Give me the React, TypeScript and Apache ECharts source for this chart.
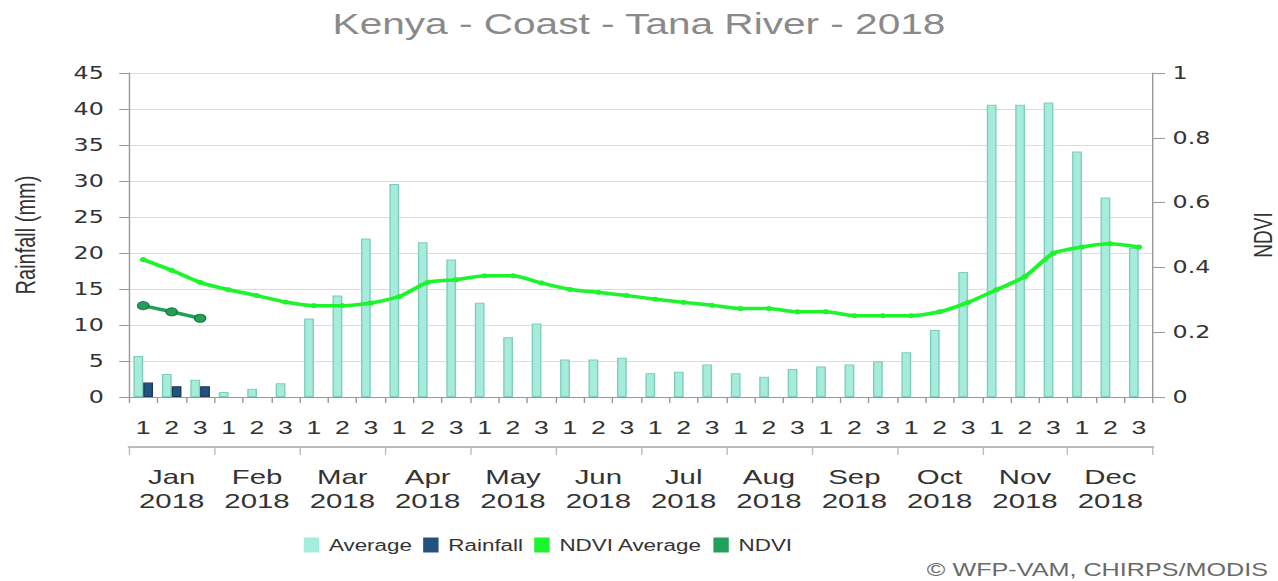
import React, { useEffect, useRef } from 'react';
import * as echarts from 'echarts';

// Reference picture is horizontally stretched; render narrower and stretch with CSS.
const VIEW_W = 1278;
const VIEW_H = 581;
const NAT_W = 913;
const S = VIEW_W / NAT_W;

const dekads = ['1', '2', '3', '1', '2', '3', '1', '2', '3', '1', '2', '3', '1', '2', '3', '1', '2', '3', '1', '2', '3', '1', '2', '3', '1', '2', '3', '1', '2', '3', '1', '2', '3', '1', '2', '3'];
const months = ['Jan\n2018', 'Feb\n2018', 'Mar\n2018', 'Apr\n2018', 'May\n2018', 'Jun\n2018', 'Jul\n2018', 'Aug\n2018', 'Sep\n2018', 'Oct\n2018', 'Nov\n2018', 'Dec\n2018'];

const averageRain = [5.7, 3.2, 2.4, 0.7, 1.15, 1.9, 10.9, 14.1, 22.0, 29.6, 21.5, 19.1, 13.1, 8.3, 10.2, 5.2, 5.2, 5.45, 3.3, 3.5, 4.5, 3.3, 2.8, 3.9, 4.25, 4.5, 4.95, 6.2, 9.3, 17.35, 40.6, 40.6, 40.9, 34.1, 27.7, 20.7];
const rainfall = [2.0, 1.5, 1.5, null, null, null, null, null, null, null, null, null, null, null, null, null, null, null, null, null, null, null, null, null, null, null, null, null, null, null, null, null, null, null, null, null];
const ndviAverage = [0.424, 0.391, 0.354, 0.331, 0.313, 0.293, 0.282, 0.282, 0.29, 0.31, 0.354, 0.362, 0.374, 0.374, 0.352, 0.332, 0.323, 0.313, 0.302, 0.292, 0.283, 0.273, 0.273, 0.263, 0.263, 0.251, 0.251, 0.251, 0.263, 0.292, 0.331, 0.372, 0.444, 0.463, 0.473, 0.463];
const ndvi = [0.282, 0.263, 0.243, null, null, null, null, null, null, null, null, null, null, null, null, null, null, null, null, null, null, null, null, null, null, null, null, null, null, null, null, null, null, null, null, null];

const FONT = 'Liberation Sans, Arial, sans-serif';

export default function App() {
  const ref = useRef<HTMLDivElement>(null);
  useEffect(() => {
    const chart = echarts.init(ref.current as HTMLDivElement, null, { renderer: 'svg', width: NAT_W, height: VIEW_H });
    const option: any = {
      animation: false,
      backgroundColor: '#fff',
      title: {
        text: 'Kenya - Coast - Tana River - 2018',
        left: 'center',
        top: 4,
        textStyle: { fontFamily: FONT, fontSize: 29, fontWeight: 'normal', color: '#8a8a8a' },
      },
      legend: {
        left: 212,
        top: 532,
        icon: 'rect',
        itemWidth: 11,
        itemHeight: 15,
        itemGap: 8,
        selectedMode: false,
        itemStyle: { borderWidth: 0 },
        textStyle: { fontFamily: FONT, fontSize: 16, color: '#333', padding: [0, 0, 0, 2] },
        data: ['Average', 'Rainfall', 'NDVI Average', 'NDVI'],
      },
      grid: {
        left: 129 / S,
        right: NAT_W - 1153 / S,
        top: 73,
        bottom: 184,
        containLabel: false,
        outerBoundsMode: 'none',
      },
      xAxis: [
        {
          type: 'category',
          data: dekads,
          axisLine: { onZero: false, lineStyle: { color: '#999', width: 1 } },
          axisTick: { show: true, length: 6, lineStyle: { color: '#999' } },
          axisLabel: { interval: 0, fontFamily: FONT, fontSize: 19, color: '#333', margin: 21 },
          splitLine: { show: false },
        },
        {
          type: 'category',
          data: months,
          position: 'bottom',
          offset: 50,
          axisLine: { show: true, onZero: false, lineStyle: { color: '#bbb', width: 2 } },
          axisTick: { show: true, length: 8, lineStyle: { color: '#bbb' } },
          axisLabel: { interval: 0, fontFamily: FONT, fontSize: 21, lineHeight: 24, color: '#333', margin: 18 },
          splitLine: { show: false },
        },
      ],
      yAxis: [
        {
          type: 'value',
          min: 0,
          max: 45,
          interval: 5,
          name: 'Rainfall (mm)',
          nameLocation: 'middle',
          nameRotate: 90,
          nameGap: 64,
          nameTextStyle: { fontFamily: FONT, fontSize: 20, color: '#333' },
          axisLine: { show: true, lineStyle: { color: '#999' } },
          axisTick: { show: true, length: 7, lineStyle: { color: '#999' } },
          axisLabel: { fontFamily: 'DejaVu Sans', fontSize: 17, color: '#333', margin: 18 },
          splitLine: { show: true, lineStyle: { color: '#ddd' } },
        },
        {
          type: 'value',
          min: 0,
          max: 1,
          interval: 0.2,
          position: 'right',
          name: 'NDVI',
          nameLocation: 'middle',
          nameRotate: 90,
          nameGap: 69,
          nameTextStyle: { fontFamily: FONT, fontSize: 19, color: '#333' },
          axisLine: { show: true, lineStyle: { color: '#999' } },
          axisTick: { show: true, length: 8.6, lineStyle: { color: '#999' } },
          axisLabel: { fontFamily: 'DejaVu Sans', fontSize: 17, color: '#333', margin: 14 },
          splitLine: { show: false },
        },
      ],
      series: [
        {
          name: 'Average',
          type: 'bar',
          xAxisIndex: 0,
          yAxisIndex: 0,
          data: averageRain,
          barWidth: 7,
          barGap: '0%',
          itemStyle: { color: '#a6ecdc', borderColor: '#80cdbb', borderWidth: 1 },
        },
        {
          name: 'Rainfall',
          type: 'bar',
          xAxisIndex: 0,
          yAxisIndex: 0,
          data: rainfall,
          barWidth: 7,
          itemStyle: { color: '#24527e', borderColor: '#1a3b5c', borderWidth: 1 },
        },
        {
          name: 'NDVI Average',
          type: 'line',
          xAxisIndex: 0,
          yAxisIndex: 1,
          data: ndviAverage,
          smooth: 0.2,
          symbol: 'circle',
          symbolSize: 5,
          lineStyle: { color: '#1cf52c', width: 3.5 },
          itemStyle: { color: '#1cf52c' },
          z: 5,
        },
        {
          name: 'NDVI',
          type: 'line',
          xAxisIndex: 0,
          yAxisIndex: 1,
          data: ndvi,
          smooth: 0.2,
          symbol: 'circle',
          symbolSize: 8,
          lineStyle: { color: '#22a058', width: 3.5 },
          itemStyle: { color: '#22a058', borderColor: '#187a42', borderWidth: 1 },
          z: 6,
        },
      ],
      graphic: [
        {
          type: 'text',
          x: 1268 / S,
          y: 570,
          style: {
            text: '\u00a9 WFP-VAM, CHIRPS/MODIS',
            fontFamily: FONT,
            fontSize: 18,
            fill: '#6a6a6a',
            align: 'right',
            verticalAlign: 'middle',
          },
        },
      ],
    };
    chart.setOption(option);
    return () => chart.dispose();
  }, []);
  return (
    <div style={{ position: 'absolute', left: 0, top: 0, width: VIEW_W, height: VIEW_H, overflow: 'hidden', background: '#fff' }}>
      <div ref={ref} style={{ width: NAT_W, height: VIEW_H, transform: `scaleX(${S})`, transformOrigin: '0 0' }} />
    </div>
  );
}
